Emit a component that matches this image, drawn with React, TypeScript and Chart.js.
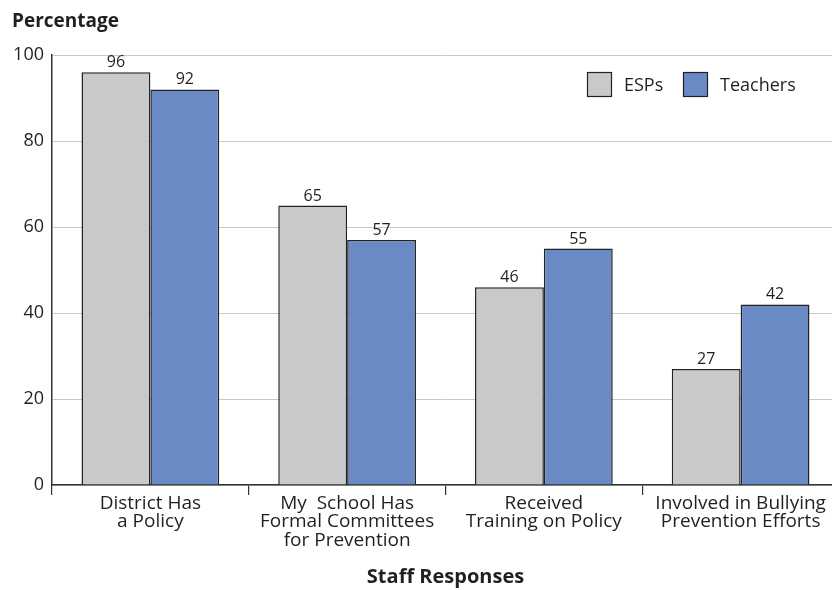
import React, { useEffect, useRef } from "react";
import { Chart, registerables } from "chart.js";

Chart.register(...registerables);

const categories: string[][] = [
  ["District Has", "a Policy"],
  ["My  School Has", "Formal Committees", "for Prevention"],
  ["Received", "Training on Policy"],
  ["Involved in Bullying", "Prevention Efforts"],
];
const espValues = [96, 65, 46, 27];
const teacherValues = [92, 57, 55, 42];
const seriesNames = ["ESPs", "Teachers"];
const yTicks = [0, 20, 40, 60, 80, 100];
const yTitle = "Percentage";
const xTitle = "Staff Responses";

const FONT = "'Open Sans', 'Noto Sans', sans-serif";
const TEXT = "#231f20";

const extrasPlugin = {
  id: "extras",
  afterDatasetsDraw(chart: any) {
    const ctx = chart.ctx;
    ctx.save();
    // value labels
    ctx.font = `16px ${FONT}`;
    ctx.fillStyle = TEXT;
    ctx.textAlign = "center";
    ctx.textBaseline = "alphabetic";
    chart.data.datasets.forEach((ds: any, i: number) => {
      const meta = chart.getDatasetMeta(i);
      meta.data.forEach((bar: any, j: number) => {
        ctx.fillText(String(ds.data[j]), bar.x, bar.y - 5);
      });
    });
    // y title
    ctx.font = `bold 19px ${FONT}`;
    ctx.textAlign = "left";
    ctx.fillText(yTitle, 12, 27);
    // legend
    const legendY = 72;
    const box = 25;
    const starts = [587, 683];
    chart.data.datasets.forEach((ds: any, i: number) => {
      const x = starts[i];
      ctx.fillStyle = ds.backgroundColor;
      ctx.fillRect(x, legendY, box, box);
      ctx.strokeStyle = "#222";
      ctx.lineWidth = 1.2;
      ctx.strokeRect(x + 0.5, legendY + 0.5, box - 1, box - 1);
      ctx.fillStyle = TEXT;
      ctx.font = `18px ${FONT}`;
      ctx.textBaseline = "middle";
      ctx.fillText(ds.label, x + box + 12, legendY + box / 2 + 1);
    });
    ctx.restore();
  },
};

export default function App() {
  const ref = useRef<HTMLCanvasElement>(null);
  useEffect(() => {
    if (!ref.current) return;
    const chart = new Chart(ref.current, {
      type: "bar",
      data: {
        labels: categories,
        datasets: [
          {
            label: seriesNames[0],
            data: espValues,
            backgroundColor: "#c8c9cb",
            borderColor: "#222",
            borderWidth: 1.5,
            categoryPercentage: 0.7,
            barPercentage: 1.0,
          },
          {
            label: seriesNames[1],
            data: teacherValues,
            backgroundColor: "#6a8ac6",
            borderColor: "#222",
            borderWidth: 1.5,
            categoryPercentage: 0.7,
            barPercentage: 1.0,
          },
        ],
      },
      options: {
        animation: false,
        responsive: false,
        maintainAspectRatio: false,
        layout: { padding: { left: 0, right: 0, top: 55, bottom: 0 } },
        plugins: {
          legend: { display: false },
          tooltip: { enabled: false },
          title: { display: false },
        },
        scales: {
          x: {
            offset: true,
            grid: {
              offset: true,
              drawOnChartArea: false,
              drawTicks: true,
              tickLength: 10,
              color: "#333",
              lineWidth: 1.2,
            },
            border: { color: "#333", width: 1.5 },
            ticks: {
              color: TEXT,
              font: { family: FONT, size: 19, lineHeight: 0.98 },
              padding: -1,
              maxRotation: 0,
              autoSkip: false,
            },
            title: {
              display: true,
              text: xTitle,
              color: TEXT,
              font: { family: FONT, size: 20, weight: "bold" },
              padding: { top: 1, bottom: 1 },
            },
            afterFit(scale: any) {
              scale.height = 105;
            },
          },
          y: {
            min: 0,
            max: 100,
            afterBuildTicks(scale: any) {
              scale.ticks = yTicks.map((v) => ({ value: v }));
            },
            grid: {
              color: "#c8c8c8",
              lineWidth: 1,
              drawTicks: false,
            },
            border: { color: "#333", width: 1.5 },
            ticks: {
              color: TEXT,
              font: { family: FONT, size: 18 },
              padding: 8,
            },
            afterFit(scale: any) {
              scale.width = 52;
            },
          },
        },
      },
      plugins: [extrasPlugin],
    });
    return () => chart.destroy();
  }, []);
  return (
    <div style={{ position: "fixed", left: 0, top: 0, width: 832, height: 590, background: "#fff", overflow: "hidden" }}>
      <canvas ref={ref} width={839} height={590} style={{ display: "block" }} />
    </div>
  );
}
